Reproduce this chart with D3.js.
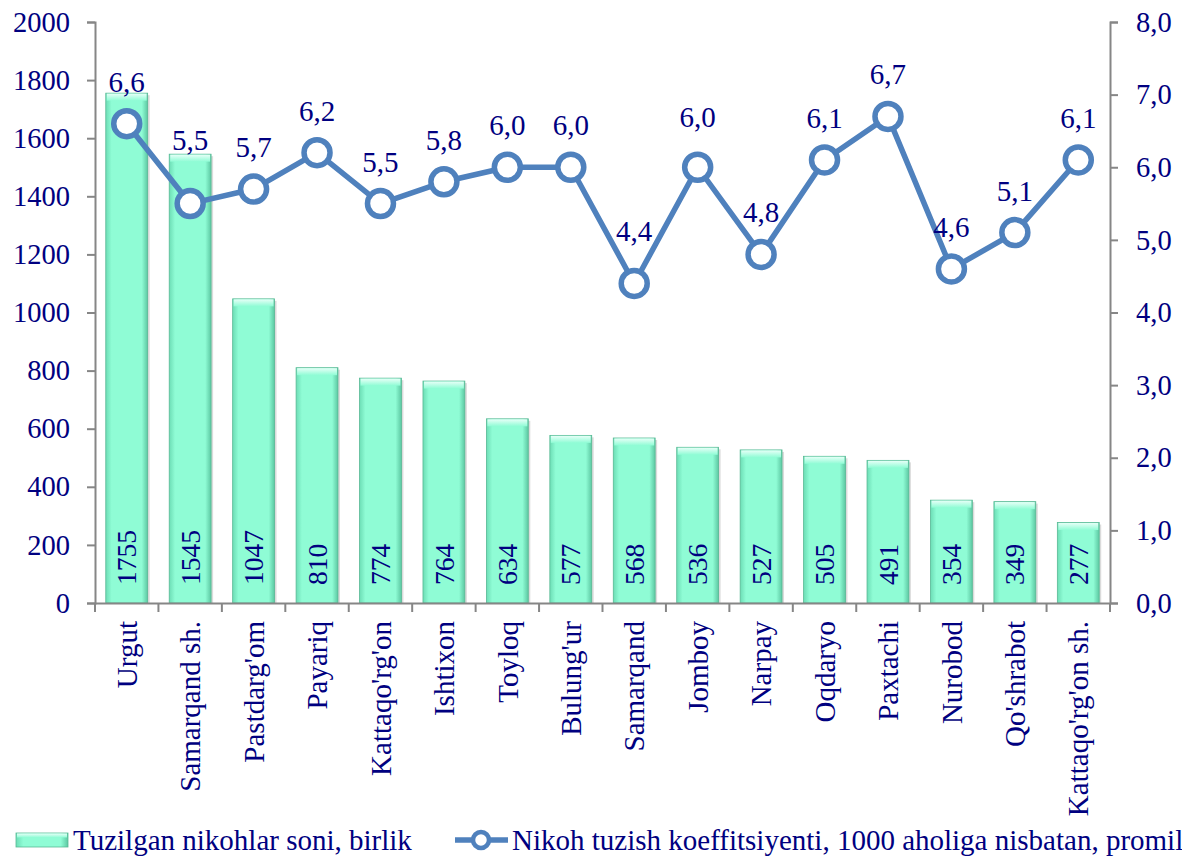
<!DOCTYPE html>
<html>
<head>
<meta charset="utf-8">
<script src="https://cdn.jsdelivr.net/npm/d3@7"></script>
<style>
  body { margin: 0; background: #fff; }
  svg { display: block; font-family: "Liberation Serif", "Times New Roman", serif; }
  svg text { font-family: "Liberation Serif", "Times New Roman", serif; }
</style>
</head>
<body>
<svg id="chart" width="1182" height="857"></svg>
<script>
// data
var districts = ["Urgut", "Samarqand sh.", "Pastdarg'om", "Payariq", "Kattaqo'rg'on", "Ishtixon", "Toyloq",
  "Bulung'ur", "Samarqand", "Jomboy", "Narpay", "Oqdaryo", "Paxtachi", "Nurobod", "Qo'shrabot", "Kattaqo'rg'on sh."];
var marriages = [1755, 1545, 1047, 810, 774, 764, 634, 577, 568, 536, 527, 505, 491, 354, 349, 277];
var coefficient = [6.6, 5.5, 5.7, 6.2, 5.5, 5.8, 6.0, 6.0, 4.4, 6.0, 4.8, 6.1, 6.7, 4.6, 5.1, 6.1];
var leftTicks = [0, 200, 400, 600, 800, 1000, 1200, 1400, 1600, 1800, 2000];
var rightTicks = [0, 1, 2, 3, 4, 5, 6, 7, 8];
var barName = "Tuzilgan nikohlar soni, birlik";
var lineName = "Nikoh tuzish koeffitsiyenti, 1000 aholiga nisbatan, promille";
// a few labels were moved up by hand in the original
var labelNudge = [0, -22, 0, 0, 0, 0, 0, 0, -10, -8, 0, 0, 0, 0, 0, 0];

var svg = d3.select("#chart");
var margin = { top: 22, right: 72, bottom: 254, left: 95 };
var width = 1182 - margin.left - margin.right;
var height = 857 - margin.top - margin.bottom;
var navy = "#000080";
var axisGrey = "#868686";
var lineBlue = "#4F81BD";
var serif = "'Liberation Serif', 'Times New Roman', serif";

var fmt = function (v) { return d3.format(".1f")(v).replace(".", ","); };

// gradients for the bevelled bars
var defs = svg.append("defs");
var sideGrad = defs.append("linearGradient").attr("id", "barSide");
sideGrad.append("stop").attr("offset", "0%").attr("stop-color", "#6CDDB5");
sideGrad.append("stop").attr("offset", "14%").attr("stop-color", "#8FFCD5");
sideGrad.append("stop").attr("offset", "86%").attr("stop-color", "#8FFCD5");
sideGrad.append("stop").attr("offset", "100%").attr("stop-color", "#5CC8A2");
var topGrad = defs.append("linearGradient").attr("id", "barTop").attr("x2", 0).attr("y2", 1);
topGrad.append("stop").attr("offset", "0%").attr("stop-color", "#E6FFF7");
topGrad.append("stop").attr("offset", "100%").attr("stop-color", "#8FFCD5");

var g = svg.append("g").attr("transform", "translate(" + margin.left + "," + margin.top + ")");

// scales
var x = d3.scaleBand().domain(districts).range([0, width]).paddingInner(0.34).paddingOuter(0.17);
var yLeft = d3.scaleLinear().domain([0, 2000]).range([height, 0]);
var yRight = d3.scaleLinear().domain([0, 8]).range([height, 0]);

// bars
var bars = g.selectAll(".bar").data(marriages).enter().append("g").attr("class", "bar");
bars.append("rect")
  .attr("x", (d, i) => x(districts[i]) + 2)
  .attr("y", d => yLeft(d) + 2)
  .attr("width", x.bandwidth())
  .attr("height", d => height - yLeft(d) - 2)
  .attr("fill", "#999").attr("opacity", 0.35);
bars.append("rect")
  .attr("x", (d, i) => x(districts[i]))
  .attr("y", d => yLeft(d))
  .attr("width", x.bandwidth())
  .attr("height", d => height - yLeft(d))
  .attr("fill", "url(#barSide)")
  .attr("stroke", "#58B994").attr("stroke-width", 0.8);
bars.append("rect")
  .attr("x", (d, i) => x(districts[i]) + 1)
  .attr("y", d => yLeft(d) + 0.5)
  .attr("width", x.bandwidth() - 2)
  .attr("height", 7)
  .attr("fill", "url(#barTop)");

// bar value labels
bars.append("text")
  .attr("transform", (d, i) => "translate(" + (x(districts[i]) + x.bandwidth() / 2) + "," + (height - 18) + ") rotate(-90)")
  .attr("dy", "0.35em")
  .attr("text-anchor", "start")
  .attr("font-family", serif)
  .attr("font-size", 27.5)
  .attr("fill", navy)
  .text(d => d);

// axes
var leftAxis = g.append("g")
  .call(d3.axisLeft(yLeft).tickValues(leftTicks).tickSize(8).tickPadding(17).tickFormat(d3.format("d")));
var rightAxis = g.append("g").attr("transform", "translate(" + width + ",0)")
  .call(d3.axisRight(yRight).tickValues(rightTicks).tickSize(8).tickPadding(18).tickFormat(fmt));
var bottomAxis = g.append("g").attr("transform", "translate(0," + height + ")")
  .call(d3.axisBottom(x).tickSize(0).tickFormat(""));
// category boundary ticks
var bounds = d3.range(districts.length + 1).map(i => i * x.step());
bottomAxis.selectAll(".bound").data(bounds).enter().append("line")
  .attr("class", "bound")
  .attr("x1", d => d).attr("x2", d => d)
  .attr("y1", 0).attr("y2", 9);

[leftAxis, rightAxis, bottomAxis].forEach(function (a) {
  a.attr("font-family", serif);
  a.selectAll("path.domain").attr("stroke", axisGrey).attr("stroke-width", 2);
  a.selectAll("line").attr("stroke", axisGrey).attr("stroke-width", 2);
  a.selectAll("text").attr("fill", navy).attr("font-size", 28.5).attr("font-family", serif);
});

// category labels
g.selectAll(".cat").data(districts).enter().append("text")
  .attr("class", "cat")
  .attr("transform", d => "translate(" + (x(d) + x.bandwidth() / 2) + "," + (height + 18) + ") rotate(-90)")
  .attr("dy", "0.35em")
  .attr("text-anchor", "end")
  .attr("font-family", serif)
  .attr("font-size", 29)
  .attr("fill", navy)
  .text(d => d);

// line series
var line = d3.line()
  .x((d, i) => x(districts[i]) + x.bandwidth() / 2)
  .y(d => yRight(d));
g.append("path").datum(coefficient)
  .attr("d", line)
  .attr("fill", "none")
  .attr("stroke", lineBlue)
  .attr("stroke-width", 5.5)
  .attr("stroke-linejoin", "round");
g.selectAll(".dot").data(coefficient).enter().append("circle")
  .attr("class", "dot")
  .attr("cx", (d, i) => x(districts[i]) + x.bandwidth() / 2)
  .attr("cy", d => yRight(d))
  .attr("r", 13)
  .attr("fill", "#fff")
  .attr("stroke", lineBlue)
  .attr("stroke-width", 5.5);
g.selectAll(".lbl").data(coefficient).enter().append("text")
  .attr("class", "lbl")
  .attr("x", (d, i) => x(districts[i]) + x.bandwidth() / 2)
  .attr("y", (d, i) => yRight(d) - 32 + labelNudge[i])
  .attr("text-anchor", "middle")
  .attr("font-family", serif)
  .attr("font-size", 29)
  .attr("fill", navy)
  .text(fmt);

// legend
var legend = svg.append("g").attr("transform", "translate(0,840)");
legend.append("rect").attr("x", 16).attr("y", -7).attr("width", 52).attr("height", 14)
  .attr("fill", "url(#barSide)").attr("stroke", "#58B994").attr("stroke-width", 0.8);
legend.append("rect").attr("x", 17).attr("y", -6.5).attr("width", 50).attr("height", 4)
  .attr("fill", "url(#barTop)");
legend.append("text").attr("x", 73).attr("y", 0).attr("dy", "0.35em")
  .attr("font-family", serif).attr("font-size", 29).attr("fill", navy).text(barName);
legend.append("line").attr("x1", 455).attr("x2", 508).attr("y1", 0).attr("y2", 0)
  .attr("stroke", lineBlue).attr("stroke-width", 5.5);
legend.append("circle").attr("cx", 481).attr("cy", 0).attr("r", 8)
  .attr("fill", "#fff").attr("stroke", lineBlue).attr("stroke-width", 4.5);
legend.append("text").attr("x", 512).attr("y", 0).attr("dy", "0.35em")
  .attr("font-family", serif).attr("font-size", 29).attr("fill", navy).text(lineName);
</script>
</body>
</html>
